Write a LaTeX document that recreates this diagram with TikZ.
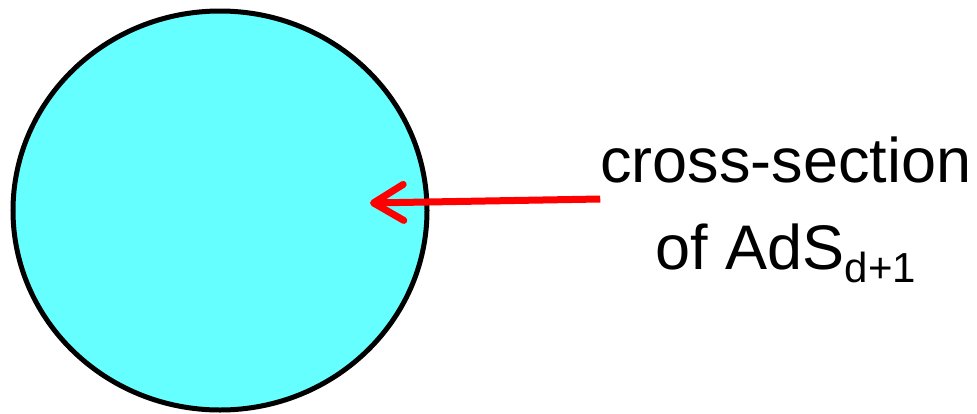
\documentclass[tikz,border=0pt]{standalone}
\usepackage{fontspec}
\setmainfont{Liberation Sans}
\usepackage{xcolor}
\usetikzlibrary{shapes.geometric,arrows.meta}

\definecolor{adsfill}{HTML}{66FFFF}
\newcommand{\lowidx}[1]{\raisebox{-13pt}{\fontsize{42}{42}\selectfont #1}}

\begin{document}
\begin{tikzpicture}[
  x=1pt, y=-1pt,
  disk/.style={ellipse, draw, line width=5pt, fill=adsfill, minimum width=414pt, minimum height=399pt, inner sep=0pt},
  lbl/.style={align=center, inner sep=0pt, font=\fontsize{63}{87}\selectfont},
  pointer/.style={draw=red, line width=7pt, -{Straight Barb[length=30pt, width=36pt, round]}}
]
\useasboundingbox (0,0) rectangle (977,413);
\node[disk] (ads) at (220,210.5) {};
\node[lbl, anchor=base] (caption) at (786,269) {cross-section\\of AdS\lowidx{d+1}};
\coordinate (tip) at (370,203);
\draw[pointer] (caption.west |- 0,199) -- (tip);
\end{tikzpicture}
\end{document}
